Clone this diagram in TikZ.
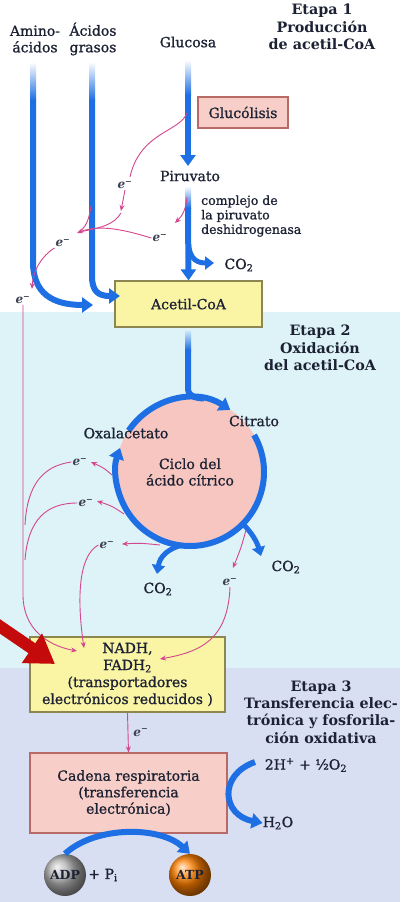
\documentclass[tikz,border=0pt]{standalone}
\usepackage{fontspec}
\setmainfont{DejaVu Serif}
\newfontfamily\lblfont{DejaVu Serif}[FakeBold=1]
\usetikzlibrary{arrows.meta,calc,positioning}
\definecolor{flowblue}{HTML}{1E6FE3}
\definecolor{epink}{HTML}{D4468E}
\definecolor{inkdark}{HTML}{1C2133}
\definecolor{cyanbg}{HTML}{DDF3F8}
\definecolor{lavbg}{HTML}{D9DFF2}
\definecolor{boxyellow}{HTML}{FAF5A5}
\definecolor{yellowedge}{HTML}{8C8650}
\definecolor{boxpink}{HTML}{F8CFC8}
\definecolor{pinkedge}{HTML}{B86A66}
\definecolor{cyclepink}{HTML}{F7C6C0}
\definecolor{markred}{HTML}{C40A0A}
\newcommand{\eminus}{\textit{e}\textsuperscript{−}}
\tikzset{
  flow/.style={line width=6pt,flowblue,-{Triangle[length=11pt,width=15pt]}},
  flowsmall/.style={line width=5pt,flowblue,-{Triangle[length=9pt,width=13pt]}},
  flowline/.style={line width=6pt,flowblue},
  eflow/.style={line width=0.9pt,epink,-{Stealth[length=6pt,width=5pt]}},
  eline/.style={line width=0.9pt,epink},
  lbl/.style={font=\lblfont\fontsize{14}{16.5}\selectfont,text=inkdark,align=center,inner sep=0pt},
  smalllbl/.style={font=\lblfont\fontsize{12.5}{14.5}\selectfont,text=inkdark,align=left,inner sep=0pt},
  etapa/.style={font=\bfseries\fontsize{14.3}{17.3}\selectfont,text=inkdark,align=center,inner sep=0pt},
  elab/.style={font=\bfseries\fontsize{12}{12}\selectfont,text=inkdark!85,inner sep=1pt},
  yellowbox/.style={draw=yellowedge,fill=boxyellow,line width=1.2pt,align=center,inner sep=0pt,
    font=\lblfont\fontsize{14}{17}\selectfont,text=inkdark},
  pinkbox/.style={draw=pinkedge,fill=boxpink,line width=1.2pt,align=center,inner sep=0pt,
    font=\lblfont\fontsize{14}{16.5}\selectfont,text=inkdark},
  ball/.style={circle,shading=ball,minimum size=42pt,inner sep=0pt,
    font=\bfseries\fontsize{12.5}{13}\selectfont,text=inkdark}
}
\begin{document}
\begin{tikzpicture}[x=1pt,y=-1pt]
  \useasboundingbox (0,0) rectangle (400,902);
  % backgrounds of the three stages
  \fill[white] (0,0) rectangle (400,312);
  \fill[cyanbg] (0,312) rectangle (400,668);
  \fill[lavbg] (0,668) rectangle (400,902);

  % etapa 1
  \node[lbl] (amino) at (35,39) {Amino-\\ácidos};
  \node[lbl] (grasos) at (93,39) {Ácidos\\grasos};
  \node[lbl] (glucosa) at (188,42) {Glucosa};
  \node[etapa] (etapa1) at (322,27) {Etapa 1\\Producción\\de acetil-CoA};
  \node[pinkbox,minimum width=90pt,minimum height=31pt] (glucolisis) at (243,112.5) {Glucólisis};
  \node[lbl] (piruvato) at (190,176) {Piruvato};
  \node[smalllbl,anchor=west] (complejo) at (201,216) {complejo de\\la piruvato\\deshidrogenasa};
  \node[lbl] (co2a) at (239,265) {CO\textsubscript{2}};
  \node[yellowbox,minimum width=147pt,minimum height=46pt] (acetil) at (188.5,304) {Acetil-CoA};
  \node[yellowbox,minimum width=195pt,minimum height=75pt] (nadh) at (127.5,674.5)
    {NADH,\\FADH\textsubscript{2}\\(transportadores\\electrónicos reducidos )};

  \shade[top color=white,bottom color=flowblue] (30,62) rectangle (36,100);
  \draw[flow] (33,100) -- (33,262) .. controls (33,293) and (52,305) .. (93,305);
  \shade[top color=white,bottom color=flowblue] (89,62) rectangle (95,100);
  \draw[flow] (92,100) -- (92,276) .. controls (92,291) and (98,296) .. (120,296);
  \shade[top color=white,bottom color=flowblue] (185,60) rectangle (191,95);
  \draw[flow] (188,95) -- (188,166);
  \shade[top color=white,bottom color=flowblue] (185,186) rectangle (191,208);
  \draw[flow] (188,208) -- (acetil.north);
  \draw[flowsmall] (188,236) .. controls (188,256) and (194,263) .. (214,263);

  % electrones de la etapa 1
  \coordinate (glyc) at (187,113);
  \coordinate (beta) at (91,206);
  \coordinate (pdh) at (187,197);
  \coordinate (merge) at (79,232);
  \node[elab] (e1) at (125,185) {\eminus};
  \node[elab] (e2) at (160,238) {\eminus};
  \node[elab] (e3) at (63,243) {\eminus};
  \node[elab] (e4) at (23,300) {\eminus};
  \draw[eline] (glyc) .. controls (180,132) and (140,132) .. (130,177);
  \draw[eflow] (e1.south) -- (121,211);
  \draw[eline] (121,213) .. controls (114,225) and (100,228) .. (merge);
  \draw[eline] (beta) .. controls (89,220) and (86,227) .. (merge);
  \draw[eflow] (e2.west) .. controls (125,230) and (100,224) .. (77,233);
  \draw[eflow] (pdh) .. controls (186,210) and (182,216) .. (175,223);
  \draw[eflow] (e3.south west) .. controls (42,256) and (33,270) .. (32,289);
  \draw[eflow] (e4.south) -- ++(0,290) .. controls +(0,32) and (45,645) .. (77,651);

  % etapa 2
  \node[etapa] (etapa2) at (320,348) {Etapa 2\\Oxidación\\del acetil-CoA};
  \node[circle,fill=cyclepink,minimum size=148pt,lbl] (ciclo) at (190,472) {Ciclo del\\ácido cítrico};
  \shade[top color=cyanbg,bottom color=flowblue] (185,329) rectangle (191,350);
  \draw[flowline] (188,350) -- (188,388) .. controls (188,396) and (194,398) .. (204,398.5);
  \draw[flow] ([shift={(ciclo.center)}]-146:74) arc[start angle=-146,end angle=-57,radius=74];
  \draw[flow] ([shift={(ciclo.center)}]-30:74) arc[start angle=-30,end angle=199,radius=74];
  \draw[flowsmall] (243,524) .. controls (252,533) and (257,542) .. (261,556);
  \draw[flowsmall] (182,545) .. controls (168,549) and (160,556) .. (157,574);
  \node[lbl] (oxal) at (126,433) {Oxalacetato};
  \node[lbl] (citrato) at (254,421) {Citrato};
  \node[lbl] (co2b) at (158,589) {CO\textsubscript{2}};
  \node[lbl] (co2c) at (286,567) {CO\textsubscript{2}};

  % electrones del ciclo
  \node[elab] (e5) at (80,462) {\eminus};
  \node[elab] (e6) at (86,503) {\eminus};
  \node[elab] (e7) at (107,545) {\eminus};
  \node[elab] (e8) at (230,582) {\eminus};
  \draw[eflow] (112,475) .. controls (104,468) .. (91,462);
  \draw[eflow] (124,514) .. controls (112,506) .. (97,501);
  \draw[eflow] (160,545) .. controls (140,543) .. (122,544);
  \draw[eflow] (246,530) .. controls (241,548) .. (233,568);
  \draw[eline] (e5.west) .. controls (42,466) and (27,486) .. (25,525);
  \draw[eline] (e6.west) .. controls (46,503) and (28,520) .. (25,560);
  \draw[eflow] (e7.west) .. controls (78,556) and (77,600) .. (84,648);
  \draw[eflow] (e8.south) .. controls (228,640) and (200,652) .. (160,659);

  % etapa 3
  \node[etapa] (etapa3) at (321,712) {Etapa 3\\Transferencia elec-\\trónica y fosforila-\\ción oxidativa};
  \node[pinkbox,minimum width=197pt,minimum height=80pt] (cadena) at (128.5,793)
    {Cadena respiratoria\\(transferencia\\electrónica)};
  \draw[eflow] (nadh.south) -- (cadena.north) node[elab,midway,right=4pt] (e9) {\eminus};
  \node[lbl] (oxigeno) at (306,765) {2H\textsuperscript{+} + ½O\textsubscript{2}};
  \node[lbl] (agua) at (278,823) {H\textsubscript{2}O};
  \draw[flow] (255,762) .. controls (218,775) and (222,815) .. (agua.west);
  \node[ball,ball color=gray!60] (adp) at (65,875) {ADP};
  \node[lbl,right=2pt of adp] (pi) {+ P\textsubscript{i}};
  \node[ball,ball color=orange] (atp) at (190,875) {ATP};
  \draw[flow] (adp.north) .. controls +(30,-28) and +(-30,-28) .. (atp.north);

  % flecha roja
  \draw[line width=12pt,markred,-{Triangle[length=28pt,width=34pt]}] (-8,621) -- (55,664);
\end{tikzpicture}
\end{document}
